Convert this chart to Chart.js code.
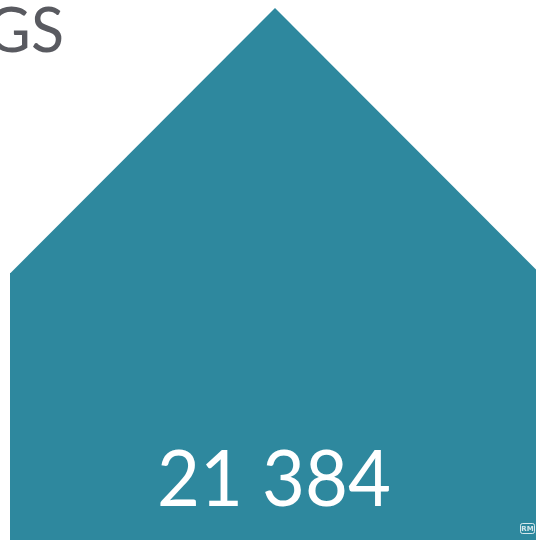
<!DOCTYPE html>
<html lang="no">
<head>
  <meta charset="UTF-8" />
  <title>Hus</title>
  <script src="https://cdn.jsdelivr.net/npm/chart.js"></script>
  <style>
    html, body { margin: 0; padding: 0; background: #fff; overflow: hidden; }
    .wrap { width: 550px; height: 540px; }
  </style>
</head>
<body>
  <div class="wrap"><canvas id="house" width="550" height="540"></canvas></div>
  <script>
    const labels = ['GS'];
    const values = [21384];
    const houseColor = '#2e889e';

    function fmt(n) {
      return String(n).replace(/\B(?=(\d{3})+(?!\d))/g, ' ');
    }

    // draws the roof on top of the bar, plus the number and label
    const housePlugin = {
      id: 'housePlugin',
      afterDatasetsDraw(chart) {
        const ctx = chart.ctx;
        const bar = chart.getDatasetMeta(0).data[0];
        const half = bar.width / 2;
        ctx.save();
        ctx.fillStyle = houseColor;
        ctx.beginPath();
        ctx.moveTo(bar.x - half, bar.y + 0.5);
        ctx.lineTo(bar.x, bar.y - half);
        ctx.lineTo(bar.x + half, bar.y + 0.5);
        ctx.closePath();
        ctx.fill();

        // number, squeezed a little so it reads like the narrower original
        ctx.save();
        ctx.translate(bar.x - 1, 506);
        ctx.scale(0.95, 1);
        ctx.fillStyle = '#ffffff';
        ctx.font = '78px Lato, "Open Sans", sans-serif';
        ctx.textAlign = 'center';
        ctx.textBaseline = 'alphabetic';
        ctx.fillText(fmt(values[0]), 0, 0);
        ctx.restore();

        ctx.fillStyle = '#595a60';
        ctx.font = '61px Lato, "Open Sans", sans-serif';
        ctx.textAlign = 'right';
        ctx.fillText(labels[0], 64, 52);

        // small badge in the corner
        ctx.strokeStyle = 'rgba(255,255,255,0.8)';
        ctx.lineWidth = 1;
        ctx.beginPath();
        ctx.roundRect(520.5, 523.5, 14, 10, 2);
        ctx.stroke();
        ctx.fillStyle = 'rgba(255,255,255,0.8)';
        ctx.font = 'bold 7px "DejaVu Sans", sans-serif';
        ctx.textAlign = 'center';
        ctx.textBaseline = 'middle';
        ctx.fillText('RM', 527.5, 529);
        ctx.restore();
      }
    };

    new Chart(document.getElementById('house'), {
      type: 'bar',
      data: {
        labels: labels,
        datasets: [{ data: values, backgroundColor: houseColor, borderWidth: 0, barPercentage: 1, categoryPercentage: 530 / 550 }]
      },
      options: {
        responsive: false,
        animation: false,
        layout: { padding: { top: 273, left: 0, right: 0, bottom: 0 } },
        plugins: { legend: { display: false }, tooltip: { enabled: false } },
        scales: {
          x: { display: false },
          y: { display: false, min: 0, max: values[0] }
        }
      },
      plugins: [housePlugin]
    });
  </script>
</body>
</html>
